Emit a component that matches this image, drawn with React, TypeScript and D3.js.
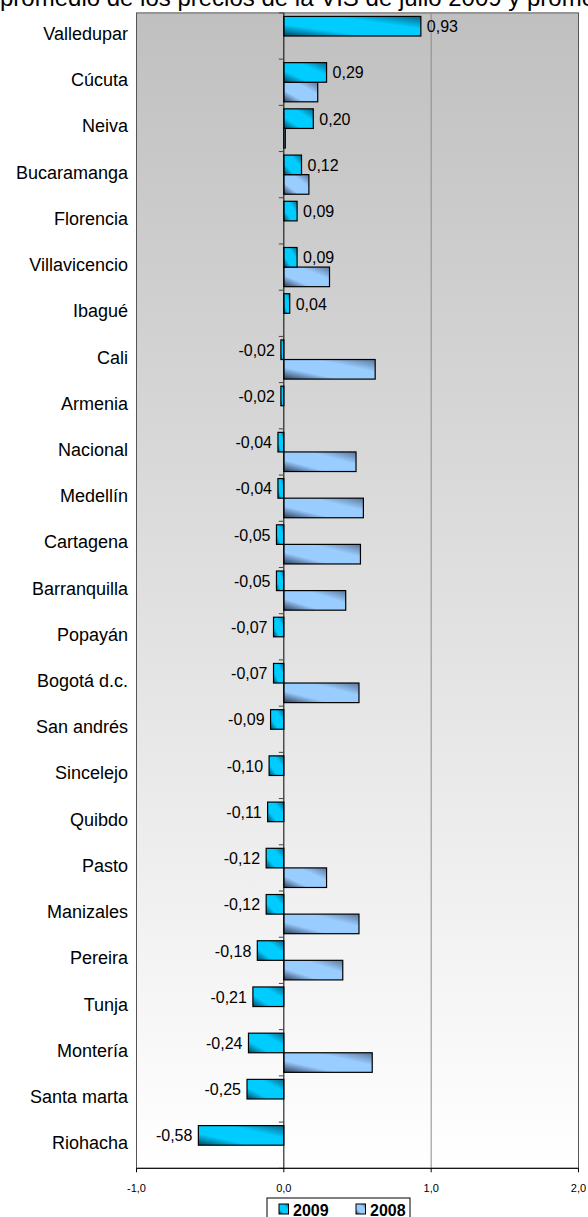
import React from 'react';
import * as d3 from 'd3';

const categories = [
  'Valledupar', 'Cúcuta', 'Neiva', 'Bucaramanga', 'Florencia', 'Villavicencio',
  'Ibagué', 'Cali', 'Armenia', 'Nacional', 'Medellín', 'Cartagena', 'Barranquilla',
  'Popayán', 'Bogotá d.c.', 'San andrés', 'Sincelejo', 'Quibdo', 'Pasto',
  'Manizales', 'Pereira', 'Tunja', 'Montería', 'Santa marta', 'Riohacha',
];

const values2009 = [
  0.93, 0.29, 0.2, 0.12, 0.09, 0.09, 0.04, -0.02, -0.02, -0.04, -0.04, -0.05, -0.05,
  -0.07, -0.07, -0.09, -0.1, -0.11, -0.12, -0.12, -0.18, -0.21, -0.24, -0.25, -0.58,
];

const values2008: (number | null)[] = [
  null, 0.23, 0.01, 0.17, null, 0.31, null, 0.62, null, 0.49, 0.54, 0.52, 0.42,
  null, 0.51, null, null, null, 0.29, 0.51, 0.4, null, 0.6, null, null,
];

const seriesNames = ['2009', '2008'];
const xTicks = [-1, 0, 1, 2];
const title = 'promedio de los precios de la VIS de julio 2009 y promedio 2008';

const W = 588;
const H = 1217;
const plotTop = 12.9;
const plotBottom = 1168.3;
const font = '"Liberation Sans", Arial, sans-serif';

const locale = d3.formatLocale({
  decimal: ',',
  thousands: '.',
  grouping: [3],
  currency: ['$', ''],
  minus: '-',
});
const fmtLabel = locale.format('.2f');
const fmtTick = locale.format('.1f');

export default function App() {
  const x = d3.scaleLinear().domain([-1, 2]).range([136.5, 578.5]);
  const y = d3.scaleBand<string>().domain(categories).range([plotTop, plotBottom]);
  const ySub = d3
    .scaleBand<string>()
    .domain(seriesNames)
    .range([0, y.bandwidth()])
    .paddingInner(0)
    .paddingOuter(0.18);

  const x0 = x(0);
  const plotLeft = x(-1);
  const plotRight = x(2);

  const rows = categories.map((c, i) => ({
    cat: c,
    v09: values2009[i],
    v08: values2008[i],
  }));

  const barRect = (v: number, cat: string, s: string) => {
    const y0 = (y(cat) as number) + (ySub(s) as number);
    return {
      x: Math.min(x(v), x0),
      y: y0,
      width: Math.abs(x(v) - x0),
      height: ySub.bandwidth(),
    };
  };

  return (
    <svg
      width={W}
      height={H}
      style={{position: 'absolute', left: 0, top: 0, display: 'block', background: '#fff'}}
      fontFamily={font}>
      <defs>
        <linearGradient id="bg" x1="0" y1="0" x2="0" y2="1">
          <stop offset="0" stopColor="#c0c0c0" />
          <stop offset="1" stopColor="#ffffff" />
        </linearGradient>
        <linearGradient id="g2009" x1="0" y1="1" x2="1" y2="0">
          <stop offset="0" stopColor="#00465e" />
          <stop offset="0.3" stopColor="#00ccff" />
          <stop offset="0.68" stopColor="#00ccff" />
          <stop offset="1" stopColor="#0a6585" />
        </linearGradient>
        <linearGradient id="g2008" x1="0" y1="1" x2="1" y2="0">
          <stop offset="0" stopColor="#2c3c58" />
          <stop offset="0.3" stopColor="#99ccff" />
          <stop offset="0.68" stopColor="#99ccff" />
          <stop offset="1" stopColor="#5a7598" />
        </linearGradient>
      </defs>

      {/* cut-off title */}
      <text x={0} y={6} fontSize={24} fill="#000">
        {title}
      </text>

      {/* plot area */}
      <rect
        x={plotLeft}
        y={plotTop}
        width={plotRight - plotLeft}
        height={plotBottom - plotTop}
        fill="url(#bg)"
        stroke="#555"
        strokeWidth={1}
      />
      <line x1={x(1)} x2={x(1)} y1={plotTop} y2={plotBottom} stroke="#8a8a8a" strokeWidth={1} />

      {/* category labels */}
      {rows.map(r => (
        <text
          key={'l' + r.cat}
          x={128}
          y={(y(r.cat) as number) + y.bandwidth() / 2 + 4}
          textAnchor="end"
          fontSize={18}
          fill="#000">
          {r.cat}
        </text>
      ))}

      {/* bars 2008 */}
      {rows
        .filter(r => r.v08 !== null)
        .map(r => (
          <rect
            key={'b08' + r.cat}
            {...barRect(r.v08 as number, r.cat, '2008')}
            fill="url(#g2008)"
            stroke="#000"
            strokeWidth={1.2}
          />
        ))}

      {/* bars 2009 */}
      {rows.map(r => (
        <rect
          key={'b09' + r.cat}
          {...barRect(r.v09, r.cat, '2009')}
          fill="url(#g2009)"
          stroke="#000"
          strokeWidth={1.2}
        />
      ))}

      {/* zero axis with category ticks */}
      <line x1={x0} x2={x0} y1={plotTop} y2={plotBottom} stroke="#000" strokeWidth={1} />
      {[...categories.map(c => y(c) as number), plotBottom].map((ty, i) => (
        <line key={'t' + i} x1={x0 - 5} x2={x0} y1={ty} y2={ty} stroke="#444" strokeWidth={1} />
      ))}

      {/* data labels 2009 */}
      {rows.map(r => {
        const b = barRect(r.v09, r.cat, '2009');
        const pos = r.v09 >= 0;
        return (
          <text
            key={'v' + r.cat}
            x={pos ? x(r.v09) + 6 : x(r.v09) - 6}
            y={b.y + b.height / 2 + 6}
            textAnchor={pos ? 'start' : 'end'}
            fontSize={16}
            fill="#000">
            {fmtLabel(r.v09)}
          </text>
        );
      })}

      {/* value axis */}
      <line x1={plotLeft} x2={plotRight} y1={plotBottom} y2={plotBottom} stroke="#000" strokeWidth={1} />
      {xTicks.map(t => (
        <g key={'xt' + t} transform={`translate(${x(t)},${plotBottom})`}>
          <line y1={0} y2={4} stroke="#000" strokeWidth={1} />
          <text y={23.5} textAnchor="middle" fontSize={11} fill="#000">
            {fmtTick(t)}
          </text>
        </g>
      ))}

      {/* legend */}
      <rect x={267} y={1198} width={143} height={30} fill="#fff" stroke="#000" strokeWidth={1} />
      {seriesNames.map((s, i) => {
        const lx = 279 + i * 77;
        return (
          <g key={'lg' + s}>
            <rect
              x={lx}
              y={1204}
              width={9.5}
              height={10}
              fill={`url(#g${s})`}
              stroke="#000"
              strokeWidth={1}
            />
            <text x={lx + 14} y={1215.5} fontSize={16} fontWeight="bold" fill="#000">
              {s}
            </text>
          </g>
        );
      })}
    </svg>
  );
}
